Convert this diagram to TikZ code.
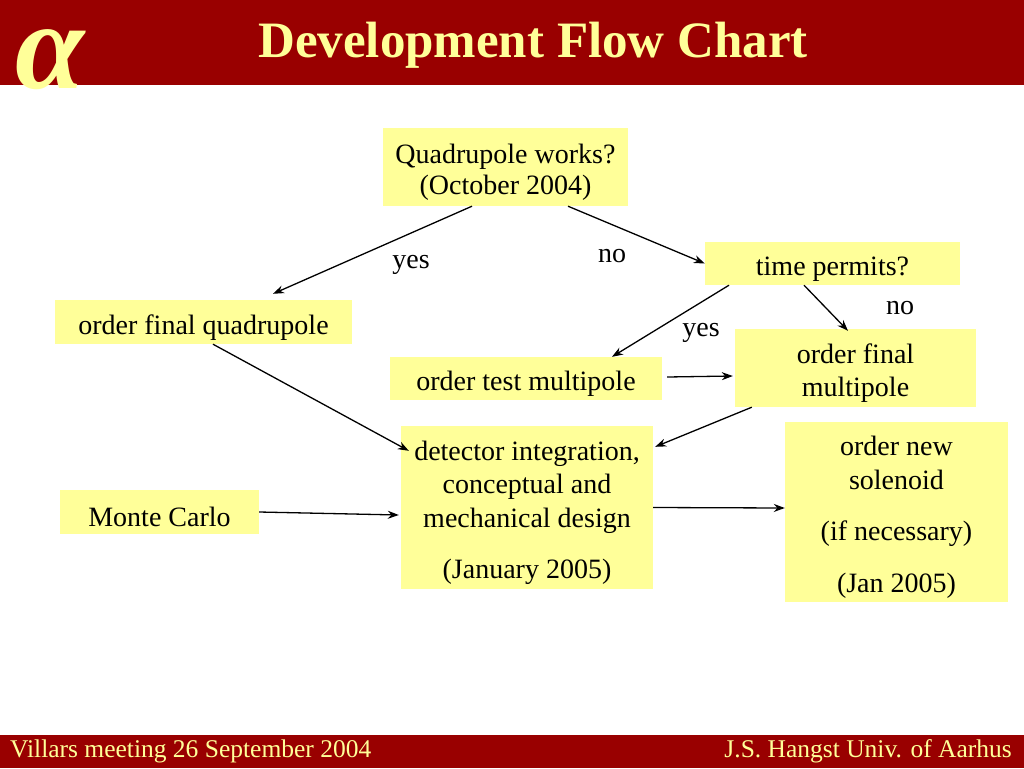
\documentclass[tikz,border=0pt]{standalone}
\usepackage{fontspec}
\setmainfont{Liberation Serif}
\usetikzlibrary{arrows.meta}
\definecolor{barred}{HTML}{990000}
\definecolor{ylw}{HTML}{FFFF99}
\newcommand{\stt}{\rule{0pt}{30pt}}
\tikzset{
  box/.style={fill=ylw, inner sep=0pt, align=center, font=\fontsize{28}{33.5}\selectfont},
  lbl/.style={inner sep=0pt, font=\fontsize{28}{33}\selectfont},
  conn/.style={line width=1.3pt, -{Stealth[length=11pt,width=8pt]}},
}
\begin{document}
\begin{tikzpicture}[x=1pt,y=-1pt]
\useasboundingbox (0,0) rectangle (1024,768);
% bars
\fill[barred] (0,0) rectangle (1024,85);
\fill[barred] (0,735) rectangle (1024,768);
\node[text=ylw, inner sep=0pt, font=\fontsize{51}{56}\bfseries\selectfont] (title) at (533,45) {Development Flow Chart};
\node[text=ylw, inner sep=0pt, font=\fontsize{125}{130}\bfseries\itshape\selectfont] (alpha) at (50.5,60) {α};
\node[text=ylw, inner sep=0pt, anchor=west, font=\fontsize{25.5}{28}\selectfont] (fl) at (10,751) {Villars meeting 26 September 2004};
\node[text=ylw, inner sep=0pt, anchor=east, font=\fontsize{25.5}{28}\selectfont] (fr) at (1012,751) {J.S. Hangst Univ. of Aarhus};
% boxes
\node[box, minimum width=245pt, minimum height=78pt] (quad) at (505.5,167) {\stt Quadrupole works?\\[-2.5pt](October 2004)};
\node[box, minimum width=255pt, minimum height=43pt] (time) at (832.5,263.5) {\stt time permits?};
\node[box, minimum width=297pt, minimum height=44pt] (ofq) at (203.5,322) {\stt order final quadrupole};
\node[box, minimum width=272pt, minimum height=43pt] (otm) at (526,378.5) {\stt order test multipole};
\node[box, minimum width=241pt, minimum height=78pt] (ofm) at (855.5,368) {\stt order final\\multipole};
\node[box, minimum width=252pt, minimum height=163pt] (det) at (527,507.5) {\stt detector integration,\\conceptual and\\mechanical design\\[18pt](January 2005)};
\node[box, minimum width=223pt, minimum height=180pt] (sol) at (896.5,512) {\stt order new\\solenoid\\[18pt](if necessary)\\[18pt](Jan 2005)};
\node[box, minimum width=199pt, minimum height=44pt] (mc) at (159.5,512) {\stt Monte Carlo};
% labels
\node[lbl] (yes1) at (411,265) {yes};
\node[lbl] (no1) at (612,256) {no};
\node[lbl] (no2) at (900,308) {no};
\node[lbl] (yes2) at (701,333) {yes};
% connectors
\draw[conn] ([xshift=-33.5pt]quad.south) -- ([xshift=69.5pt,yshift=6pt]ofq.north);
\draw[conn] ([xshift=62.5pt]quad.south) -- (time.west);
\draw[conn] ([xshift=-103.5pt]time.south) -- ([xshift=86pt]otm.north);
\draw[conn] ([xshift=-28.5pt]time.south) -- ([xshift=-7.5pt,yshift=-2pt]ofm.north);
\draw[conn] ([xshift=9.5pt]ofq.south) -- ([xshift=8pt,yshift=-25pt]det.north west);
\draw[conn] ([xshift=5pt,yshift=1.5pt]otm.east) -- ([xshift=-2pt,yshift=-8pt]ofm.west);
\draw[conn] ([xshift=17pt]ofm.south west) -- ([xshift=2pt,yshift=-21pt]det.north east);
\draw[conn] (mc.east) -- ([xshift=-2pt,yshift=-7.5pt]det.west);
\draw[conn] (det.east) -- ([yshift=4pt]sol.west);
\end{tikzpicture}
\end{document}
